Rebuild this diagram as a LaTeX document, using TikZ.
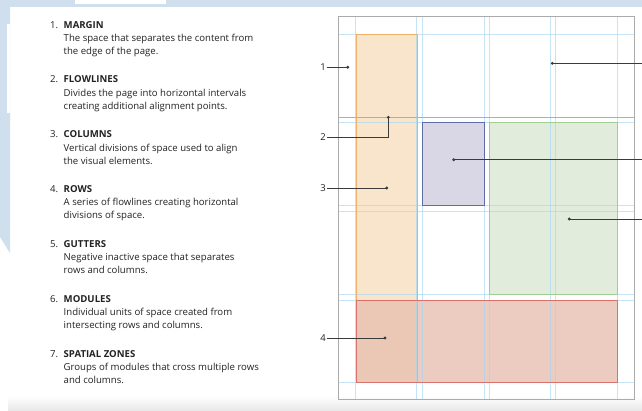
\documentclass[tikz,border=0pt]{standalone}
\usepackage{fontspec}
\setmainfont{Open Sans}
\usetikzlibrary{shapes.geometric}
\definecolor{bgblue}{HTML}{CFDFEE}
\definecolor{gridblue}{HTML}{A6D8F2}
\definecolor{pinkline}{HTML}{E98BC6}
\definecolor{pagegray}{HTML}{AAAAAA}
\definecolor{orfill}{HTML}{F9E4CC}
\definecolor{ordraw}{HTML}{F1B06A}
\definecolor{pufill}{HTML}{D9D7E6}
\definecolor{pudraw}{HTML}{5F6CA8}
\definecolor{grfill}{HTML}{E2ECDD}
\definecolor{grdraw}{HTML}{A0CD92}
\definecolor{refill}{HTML}{E8C0B1}
\definecolor{redraw}{HTML}{DA726C}
\definecolor{txt}{HTML}{222222}
\definecolor{callc}{HTML}{3A3A3A}
\tikzset{
  gridline/.style={gridblue, line width=0.55pt, opacity=0.65},
  callout/.style={callc, line width=0.8pt},
  dotc/.style={fill=callc},
  numlbl/.style={font=\fontsize{9.5}{11}\selectfont, text=txt, inner sep=1pt},
  itemnum/.style={anchor=base west, inner sep=0pt, font=\fontsize{9.6}{11}\selectfont, text=txt},
  itemtitle/.style={anchor=base west, inner sep=0pt, font=\fontsize{9.6}{11}\selectfont\bfseries, text=txt},
  itemdesc/.style={anchor=base west, inner sep=0pt, font=\fontsize{9.6}{11}\selectfont, text=txt},
}
\begin{document}
\begin{tikzpicture}[x=1pt,y=-1pt]
\useasboundingbox (0,0) rectangle (642,410);
% background
\fill[white] (0,0) rectangle (642,410);
\fill[bgblue] (0,0) rectangle (642,7.3);
\fill[white] (75,0) rectangle (165.7,4.3);
\fill[bgblue] (0,7) -- (10,7) -- (10,253) -- (0,237) -- cycle;
\fill[white] (7,23.5) rectangle (10,113);
\shade[top color=white, bottom color=black!9] (8,396) rectangle (642,410);

% modules (fills)
\fill[orfill] (356,34.3) rectangle (417,382.7);
\fill[pufill] (422.3,122.7) rectangle (484,205.7);
\fill[grfill] (489.3,122.7) rectangle (617.3,294.3);
\fill[refill, fill opacity=0.8] (356,300) rectangle (617.3,382.7);

% grid lines
\foreach \x in {355.7,416.7,422.3,484,489.3,550,555.3,617.3}
  \draw[gridline] (\x,17) -- (\x,399);
\foreach \y in {34.3,122.7,205.7,211.3,294.3,300,382.7}
  \draw[gridline] (338,\y) -- (634,\y);
\draw[pinkline, line width=0.8pt] (338,117.3) -- (634,117.3);

% module borders
\draw[ordraw, line width=0.8pt] (356,34.3) rectangle (417,382.7);
\draw[pudraw, line width=0.8pt] (422.3,122.7) rectangle (484,205.7);
\draw[grdraw, line width=0.8pt] (489.3,122.7) rectangle (617.3,294.3);
\draw[redraw, line width=0.8pt] (356,300) rectangle (617.3,382.7);

% page
\draw[pagegray, line width=0.9pt] (338.3,16.7) rectangle (634.3,399.3);

% callouts left
\node[numlbl] (c1) at (323,67.3) {1};
\node[numlbl] (c2) at (323,137.5) {2};
\node[numlbl] (c3) at (323,188) {3};
\node[numlbl] (c4) at (323,338) {4};
\coordinate (d1) at (347.7,67.3);
\coordinate (d2) at (388.3,117.3);
\coordinate (d3) at (386.7,188);
\coordinate (d4) at (385,338);
\draw[callout] (c1.east) -- (d1);
\draw[callout] (c2.east) -| (d2);
\draw[callout] (c3.east) -- (d3);
\draw[callout] (c4.east) -- (d4);
% callouts right
\coordinate (d5) at (552.3,63.3);
\coordinate (d6) at (453.7,159.7);
\coordinate (d7) at (569.3,219);
\coordinate (e5) at (642,63.3);
\coordinate (e6) at (642,159.7);
\coordinate (e7) at (642,219);
\draw[callout] (d5) -- (e5);
\draw[callout] (d6) -- (e6);
\draw[callout] (d7) -- (e7);
\foreach \d in {d1,d2,d3,d4,d5,d6,d7}
  \fill[dotc] (\d) circle (1.6);

% list
\foreach \i/\t/\a/\b [count=\k from 0] in {
  1/MARGIN/The space that separates the content from/the edge of the page.,
  2/FLOWLINES/Divides the page into horizontal intervals/creating additional alignment points.,
  3/COLUMNS/Vertical divisions of space used to align/the visual elements.,
  4/ROWS/A series of flowlines creating horizontal/divisions of space.,
  5/GUTTERS/Negative inactive space that separates/rows and columns.,
  6/MODULES/Individual units of space created from/intersecting rows and columns.,
  7/SPATIAL ZONES/Groups of modules that cross multiple rows/and columns.}
{
  \pgfmathsetmacro{\yb}{28+54.85*\k}
  \node[itemnum] (n\i) at (50,\yb) {\i.};
  \node[itemtitle] (t\i) at (63.5,\yb) {\t};
  \node[itemdesc] (a\i) at (63.5,\yb+13.3) {\a};
  \node[itemdesc] (b\i) at (63.5,\yb+26.3) {\b};
}
\end{tikzpicture}
\end{document}
